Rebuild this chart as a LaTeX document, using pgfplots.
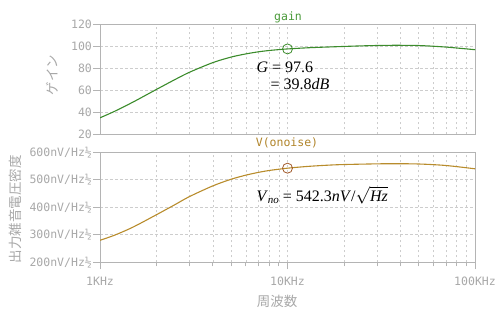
\documentclass[border=0pt]{standalone}
\usepackage{pgfplots}
\pgfplotsset{compat=1.18}
\usepackage{fontspec}
\setmainfont{Liberation Serif}
\newfontfamily\mono{DejaVu Sans Mono}
\newfontfamily\jp{Noto Sans CJK JP}
\definecolor{gline}{HTML}{3C8C2C}
\definecolor{nline}{HTML}{B88C2C}
\definecolor{gtitle}{HTML}{4A9A3A}
\definecolor{ntitle}{HTML}{B0842A}
\definecolor{nmark}{HTML}{A05828}
\definecolor{txtgray}{HTML}{A8A8A8}
\definecolor{framegray}{HTML}{B4B4B4}
\definecolor{gridgray}{HTML}{CDCDCD}
\begin{document}
\begin{tikzpicture}[x=1pt,y=1pt]
\useasboundingbox (0,0) rectangle (502,322);
\begin{axis}[
  scale only axis, width=375pt, height=110pt,
  xmode=log, xmin=1000, xmax=100000,
  grid=both,
  major grid style={gridgray, dash pattern=on 2.5pt off 2.5pt, line width=0.7pt},
  minor grid style={gridgray, dash pattern=on 2.5pt off 2.5pt, line width=0.7pt},
  axis line style={framegray, line width=0.9pt},
  tick style={framegray, line width=0.9pt},
  tick align=outside,
  major tick length=7pt, minor tick length=4pt,
  ytick pos=left, xtick pos=bottom,
  ticklabel style={font=\mono\fontsize{11.5}{12}\selectfont, text=txtgray},
  yticklabel style={inner sep=1pt},
  at={(100pt,187.7pt)}, anchor=south west,
  ymin=20, ymax=120, ytick={20,40,60,80,100,120},
  yticklabels={20,40,60,80,100,120},
  xmajorticks=false, xminorticks=false, xticklabels={}]
\addplot[gline, line width=1.1pt, smooth, tension=0.5] coordinates {
(1000,35.0) (1200,41.0) (1500,49.3) (2000,60.8) (2500,69.6) (3000,76.4) (4000,85.2) (5000,90.2) (6000,93.1) (7000,95.0) (8000,96.2) (9000,97.0) (10000,97.6) (13000,98.7) (18000,99.6) (25000,100.4) (35000,100.9) (50000,100.7) (70000,99.3) (100000,96.9)
};
\addplot[only marks, mark=o, mark size=5pt, gline, mark options={line width=0.8pt}] coordinates {(10000,97.6)};
\end{axis}
\begin{axis}[
  scale only axis, width=375pt, height=110pt,
  xmode=log, xmin=1000, xmax=100000,
  grid=both,
  major grid style={gridgray, dash pattern=on 2.5pt off 2.5pt, line width=0.7pt},
  minor grid style={gridgray, dash pattern=on 2.5pt off 2.5pt, line width=0.7pt},
  axis line style={framegray, line width=0.9pt},
  tick style={framegray, line width=0.9pt},
  tick align=outside,
  major tick length=7pt, minor tick length=4pt,
  ytick pos=left, xtick pos=bottom,
  ticklabel style={font=\mono\fontsize{11.5}{12}\selectfont, text=txtgray},
  yticklabel style={inner sep=1pt},
  xticklabel style={yshift=-4pt},
  at={(100pt,59.7pt)}, anchor=south west,
  ymin=200, ymax=600, ytick={200,300,400,500,600},
  yticklabels={200nV/Hz½,300nV/Hz½,400nV/Hz½,500nV/Hz½,600nV/Hz½},
  xtick={1000,10000,100000}, xticklabels={1KHz,10KHz,100KHz}]
\addplot[nline, line width=1.1pt, smooth, tension=0.5] coordinates {
(1000,280) (1200,299) (1500,328) (2000,373) (2500,409) (3000,439) (4000,478) (5000,502) (6000,517) (7000,527) (8000,534) (9000,538.5) (10000,542.3) (13000,549) (18000,554.5) (25000,557) (35000,558.5) (50000,557.5) (70000,552) (100000,540)
};
\addplot[only marks, mark=o, mark size=5pt, nmark, mark options={line width=0.8pt}] coordinates {(10000,542.3)};
\end{axis}
\node[gtitle, font=\mono\fontsize{11.5}{12}\selectfont] at (288,305) {gain};
\node[ntitle, font=\mono\fontsize{11.5}{12}\selectfont] at (287,179) {V(onoise)};
\node[txtgray, font=\jp\fontsize{13.5}{14}\selectfont, rotate=90] at (52,247) {ゲイン};
\node[txtgray, font=\jp\fontsize{13.5}{14}\selectfont, rotate=90] at (15,113) {出力雑音電圧密度};
\node[txtgray, font=\jp\fontsize{13.5}{14}\selectfont] at (277,21) {周波数};
\node[anchor=west, font=\fontsize{16}{17}\selectfont] at (253,255) {\textit{G} = 97.6};
\node[anchor=west, font=\fontsize{16}{17}\selectfont] at (267,238) {= 39.8\textit{dB}};
\node[anchor=west, font=\fontsize{16}{17}\selectfont] at (253,127) {\textit{V}\raisebox{-0.3ex}{\fontsize{11}{12}\selectfont\textit{no}} = 542.3\textit{nV}/$\sqrt{\hbox{\fontsize{16}{17}\selectfont\textit{Hz}}}$};
\end{tikzpicture}
\end{document}
